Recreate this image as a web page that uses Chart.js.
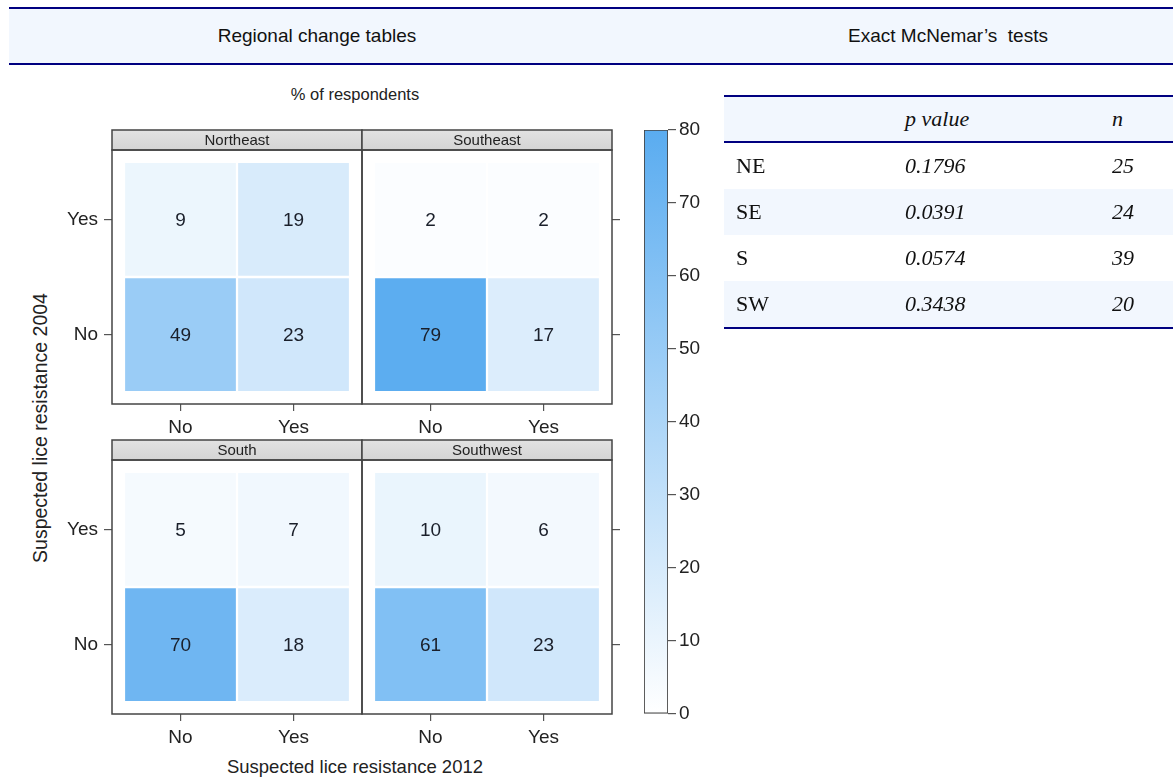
<!DOCTYPE html>
<html>
<head>
<meta charset="utf-8">
<script src="https://cdn.jsdelivr.net/npm/chart.js@4.4.1/dist/chart.umd.min.js"></script>
<style>
  body { margin: 0; width: 1173px; height: 783px; position: relative; background: #fff;
         font-family: 'Liberation Sans', Arial, sans-serif; color: #222; overflow: hidden; }
  canvas { position: absolute; }
  .abs { position: absolute; }
  #header { left: 9px; top: 7px; width: 1164px; height: 54px; background: #f2f7fe;
            border-top: 2px solid #000080; border-bottom: 2px solid #000080; font-size: 19px; }
  #header span { position: absolute; top: 0; line-height: 54px; width: 300px; text-align: center; color: #111; }
  #tests { left: 724px; top: 95px; width: 449px; border-top: 2px solid #000080; border-bottom: 2px solid #000080;
           font-family: 'Liberation Serif', 'Times New Roman', serif; font-size: 22px; color: #111; }
  #tests .row { height: 46px; line-height: 46px; position: relative; }
  #tests .head { height: 44px; line-height: 44px; border-bottom: 2px solid #000080; background: #f2f7fe; }
  #tests .shade { background: #f2f7fe; }
  #tests span { position: absolute; top: 0; }
  #tests .c1 { left: 12px; } #tests .c2 { left: 181px; font-style: italic; } #tests .c3 { left: 388px; font-style: italic; }
</style>
</head>
<body>
<div id="header" class="abs">
  <span style="left:158px">Regional change tables</span>
  <span style="left:789px">Exact McNemar’s&nbsp; tests</span>
</div>

<div class="abs" style="left:255px; top:84px; width:200px; text-align:center; font-size:16.5px; line-height:20px;">% of respondents</div>
<div class="abs" style="left:-110px; top:418px; width:300px; height:20px; line-height:20px; text-align:center; font-size:19.5px; transform:rotate(-90deg);">Suspected lice resistance 2004</div>
<div class="abs" style="left:205px; top:757px; width:300px; line-height:20px; text-align:center; font-size:18.5px;">Suspected lice resistance 2012</div>

<canvas id="ne" width="320" height="316" style="left:52px; top:128px"></canvas>
<canvas id="se" width="290" height="316" style="left:352px; top:128px"></canvas>
<canvas id="s" width="320" height="316" style="left:52px; top:438px"></canvas>
<canvas id="sw" width="290" height="316" style="left:352px; top:438px"></canvas>
<canvas id="key" width="100" height="624" style="left:634px; top:110px"></canvas>

<div id="tests" class="abs"></div>

<script>
// answer levels (2012 on x, 2004 on y)
const levels = ['No', 'Yes'];
const regionNames = ['Northeast', 'Southeast', 'South', 'Southwest'];

// % of respondents, row = 2004 answer, entries = 2012 answer [No, Yes]
const northeastNo = [49, 23];
const northeastYes = [9, 19];
const southeastNo = [79, 17];
const southeastYes = [2, 2];
const southNo = [70, 18];
const southYes = [5, 7];
const southwestNo = [61, 23];
const southwestYes = [10, 6];

const colorTicks = [0, 10, 20, 30, 40, 50, 60, 70, 80];

// McNemar table
const testRegions = ['NE', 'SE', 'S', 'SW'];
const pValues = ['0.1796', '0.0391', '0.0574', '0.3438'];
const nValues = [25, 24, 39, 20];

const lowRGB = [255, 255, 255];
const highRGB = [90, 172, 240];
const keyMax = 80;
const fontFam = "'Liberation Sans', Arial, sans-serif";

function shade(v) {
  const t = Math.min(v / keyMax, 1);
  const c = lowRGB.map((l, i) => Math.round(l + (highRGB[i] - l) * t));
  return `rgb(${c[0]},${c[1]},${c[2]})`;
}

// strip, panel box and cell numbers
const panelFrame = {
  id: 'panelFrame',
  afterDraw(chart, args, opts) {
    const { ctx, chartArea: a } = chart;
    ctx.save();
    const g = ctx.createLinearGradient(0, a.top - 20, 0, a.top);
    g.addColorStop(0, '#e2e2e2');
    g.addColorStop(1, '#d4d4d4');
    ctx.fillStyle = g;
    ctx.fillRect(a.left, a.top - 20, a.width, 20);
    ctx.strokeStyle = '#444';
    ctx.lineWidth = 1.5;
    ctx.strokeRect(a.left, a.top - 20, a.width, 20);
    ctx.strokeRect(a.left, a.top, a.width, a.height);
    ctx.fillStyle = '#222';
    ctx.textAlign = 'center';
    ctx.textBaseline = 'middle';
    ctx.font = '15px ' + fontFam;
    ctx.fillText(opts.title, (a.left + a.right) / 2, a.top - 9);
    ctx.font = '19px ' + fontFam;
    ctx.fillStyle = '#1a1f2a';
    chart.data.datasets.forEach((ds, di) => {
      chart.getDatasetMeta(di).data.forEach((bar, i) => {
        const p = bar.getCenterPoint();
        ctx.fillText(ds.values[i], p.x, p.y + 1);
      });
    });
    ctx.restore();
  }
};

function makePanel(id, name, rowNo, rowYes, side) {
  const points = [], colors = [], values = [];
  [rowNo, rowYes].forEach((row, r) => {
    row.forEach((v, c) => {
      points.push({ x: c + 1, y: [r + 0.51, r + 1.49] });
      colors.push(shade(v));
      values.push(v);
    });
  });
  const left = side === 'left';
  return new Chart(document.getElementById(id), {
    type: 'bar',
    data: { datasets: [{ data: points, values, backgroundColor: colors, borderWidth: 0,
                         barPercentage: 0.98, categoryPercentage: 1 }] },
    options: {
      responsive: false,
      animation: false,
      layout: { padding: { top: 22, right: left ? 10 : 0, left: left ? 0 : 10, bottom: 0 } },
      plugins: { legend: { display: false }, tooltip: { enabled: false }, panelFrame: { title: name } },
      scales: {
        x: {
          type: 'linear', min: 0.394, max: 2.606, position: 'bottom', offset: false,
          afterBuildTicks: s => { s.ticks = levels.map((l, i) => ({ value: i + 1 })); },
          afterFit: s => { s.height = 40; },
          ticks: { callback: v => levels[v - 1], color: '#222', font: { size: 19, family: fontFam }, padding: 5 },
          grid: { offset: false, drawOnChartArea: false, tickLength: 7, color: '#555', lineWidth: 1.2 },
          border: { display: false }
        },
        y: {
          type: 'linear', min: 0.396, max: 2.604, position: side,
          afterBuildTicks: s => { s.ticks = levels.map((l, i) => ({ value: i + 1 })); },
          afterFit: s => { s.width = left ? 60 : 30; },
          ticks: { callback: v => left ? levels[v - 1] : '', color: '#222', font: { size: 19, family: fontFam }, padding: 6 },
          grid: { drawOnChartArea: false, tickLength: 8, color: '#555', lineWidth: 1.2 },
          border: { display: false }
        }
      }
    },
    plugins: [panelFrame]
  });
}

makePanel('ne', regionNames[0], northeastNo, northeastYes, 'left');
makePanel('se', regionNames[1], southeastNo, southeastYes, 'right');
makePanel('s', regionNames[2], southNo, southYes, 'left');
makePanel('sw', regionNames[3], southwestNo, southwestYes, 'right');

// colour key
new Chart(document.getElementById('key'), {
  type: 'bar',
  data: {
    labels: [''],
    datasets: [{
      data: [[colorTicks[0], colorTicks[colorTicks.length - 1]]],
      backgroundColor: c => {
        const ch = c.chart;
        if (!ch.chartArea) return shade(keyMax);
        const y = ch.scales.y;
        const g = ch.ctx.createLinearGradient(0, y.getPixelForValue(0), 0, y.getPixelForValue(keyMax));
        g.addColorStop(0, shade(0));
        g.addColorStop(1, shade(keyMax));
        return g;
      },
      borderColor: '#444', borderWidth: 1.2, borderSkipped: false,
      barPercentage: 1, categoryPercentage: 1
    }]
  },
  options: {
    responsive: false,
    animation: false,
    layout: { padding: { top: 20, bottom: 20, left: 10, right: 0 } },
    plugins: { legend: { display: false }, tooltip: { enabled: false } },
    scales: {
      x: { display: false },
      y: {
        position: 'right', min: 0, max: keyMax,
        afterBuildTicks: s => { s.ticks = colorTicks.map(v => ({ value: v })); },
        afterFit: s => { s.width = 66; },
        ticks: { color: '#222', font: { size: 19, family: fontFam }, padding: 3 },
        grid: { drawOnChartArea: false, tickLength: 8, color: '#555', lineWidth: 1.2 },
        border: { display: false }
      }
    }
  }
});

// McNemar table
const tests = document.getElementById('tests');
let html = '<div class="row head"><span class="c2">p value</span><span class="c3">n</span></div>';
testRegions.forEach((r, i) => {
  html += `<div class="row${i % 2 ? ' shade' : ''}"><span class="c1">${r}</span>` +
          `<span class="c2">${pValues[i]}</span><span class="c3">${nValues[i]}</span></div>`;
});
tests.innerHTML = html;
</script>
</body>
</html>
